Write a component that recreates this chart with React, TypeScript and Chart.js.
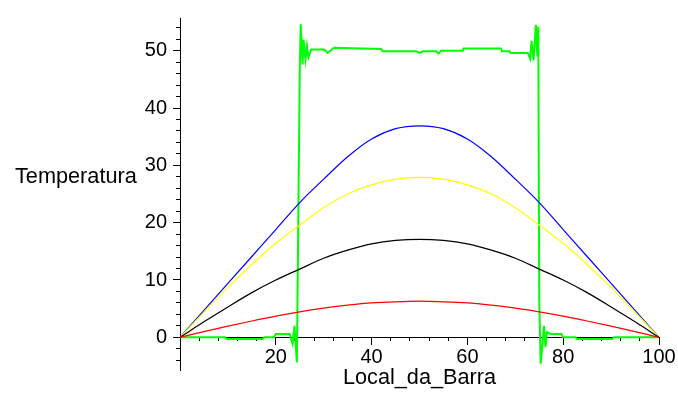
import React, { useEffect, useRef } from 'react';
import { Chart, registerables } from 'chart.js';

Chart.register(...registerables);

// Positions along the bar (x) for the smooth curves
const xSamples = [0, 5, 10, 15, 20, 25, 30, 35, 40, 45, 50, 55, 60, 65, 70, 75, 80, 85, 90, 95, 100];
const blueVals = [0, 4.7, 9.4, 14.1, 18.8, 23.5, 27.6, 31.5, 34.6, 36.4, 36.9, 36.4, 34.6, 31.5, 27.6, 23.5, 18.8, 14.1, 9.4, 4.7, 0];
const yellowVals = [0, 4.4, 8.7, 12.7, 16.4, 19.6, 22.6, 25.0, 26.6, 27.6, 27.9, 27.6, 26.6, 25.0, 22.6, 19.6, 16.4, 12.7, 8.7, 4.4, 0];
const blackVals = [0, 2.7, 5.3, 7.8, 10.0, 11.9, 13.8, 15.2, 16.3, 16.9, 17.1, 16.9, 16.3, 15.2, 13.8, 11.9, 10.0, 7.8, 5.3, 2.7, 0];
const redVals = [0, 1.0, 1.95, 2.85, 3.7, 4.45, 5.1, 5.6, 6.0, 6.2, 6.3, 6.2, 6.0, 5.6, 5.1, 4.45, 3.7, 2.85, 1.95, 1.0, 0];

// Initial profile (truncated Fourier series, with Gibbs ripples)
const greenX = [0, 9.4, 9.8, 17.2, 17.6, 19.6, 20.0, 22.9, 23.5, 23.9, 24.4, 25.0, 25.2, 25.6, 25.8, 26.2, 26.5, 26.8, 27.4, 30.1, 30.8, 32.2, 42.0, 42.3, 49.3, 50.0, 50.7, 53.5, 54.0, 54.5, 59.0, 59.2, 67.0, 67.2, 68.8, 69.0, 72.6, 73.1, 73.4, 73.8, 74.3, 74.6, 74.8, 75.0, 75.3, 76.0, 76.3, 76.6, 77.4, 79.6, 80.0, 82.6, 82.8, 90.2, 90.6, 100];
const greenY = [0, 0, -0.3, -0.3, 0, 0, 0.6, 0.6, -1.1, 2.0, -4.4, 46.3, 54.6, 47.6, 51.9, 48.5, 50.8, 48.8, 50.2, 50.2, 49.6, 50.5, 50.3, 49.9, 49.9, 49.6, 49.9, 49.9, 49.5, 50.0, 50.0, 50.4, 50.4, 49.9, 49.9, 49.6, 49.6, 48.6, 51.7, 48.3, 54.5, 49.0, 54.2, 6.6, -4.6, 2.0, -1.7, 0.9, 0.6, 0.6, 0, 0, -0.3, -0.3, 0, 0];

// Ticks
const xMajorTicks = [20, 40, 60, 80, 100];
const xMinorTicks = [4, 8, 12, 16, 24, 28, 32, 36, 44, 48, 52, 56, 64, 68, 72, 76, 84, 88, 92, 96];
const yMajorTicks = [0, 10, 20, 30, 40, 50];
const yMinorTicks = [-4, -2, 2, 4, 6, 8, 12, 14, 16, 18, 22, 24, 26, 28, 32, 34, 36, 38, 42, 44, 46, 48, 52, 54];

const X_MIN = 0;
const X_MAX = 100;
const Y_MIN = -5.7;
const Y_MAX = 55.7;

const xTitle = 'Local_da_Barra';
const yTitle = 'Temperatura';

const FONT_FAMILY = '"Liberation Sans", Arial, sans-serif';
const Y_AXIS_BOX = 60;

export default function App() {
  const ref = useRef<HTMLCanvasElement>(null);

  useEffect(() => {
    document.body.style.margin = '0';
    const canvas = ref.current!;
    const toPts = (xs: number[], ys: number[]) => xs.map((x, i) => ({ x, y: ys[i] }));

    const titles = {
      id: 'axisTitles',
      afterDraw(chart: any) {
        const c = chart.ctx;
        const a = chart.chartArea;
        c.save();
        c.fillStyle = '#000';
        c.font = '21.7px ' + FONT_FAMILY;
        c.textBaseline = 'middle';
        c.textAlign = 'left';
        c.fillText(yTitle, 15, 177);
        c.textAlign = 'center';
        c.fillText(xTitle, (a.left + a.right) / 2, 378);
        c.restore();
      },
    };

    const lineDs = (label: string, ys: number[], color: string, width: number, xs = xSamples, smooth = true) => ({
      label,
      data: toPts(xs, ys),
      borderColor: color,
      backgroundColor: color,
      borderWidth: width,
      pointRadius: 0,
      fill: false,
      tension: smooth ? 0.4 : 0,
      cubicInterpolationMode: smooth ? 'monotone' : 'default',
      xAxisID: 'x',
      yAxisID: 'y',
    });

    const tickFont = { family: FONT_FAMILY, size: 20 };

    const chart = new Chart(canvas, {
      type: 'line',
      data: {
        datasets: [
          lineDs('red', redVals, '#ff0000', 1.2),
          lineDs('black', blackVals, '#000000', 1.2),
          lineDs('yellow', yellowVals, '#ffff00', 1.2),
          lineDs('blue', blueVals, '#0000ff', 1.2),
          lineDs('green', greenY, '#00ff00', 2, greenX, false),
        ] as any,
      },
      options: {
        animation: false,
        responsive: false,
        layout: { padding: { left: 180 - Y_AXIS_BOX, right: 19, top: 13, bottom: 24 } },
        plugins: { legend: { display: false }, tooltip: { enabled: false } },
        scales: {
          x: {
            type: 'linear',
            min: X_MIN,
            max: X_MAX,
            position: { y: 0 } as any,
            z: 1,
            grid: { drawOnChartArea: false, drawTicks: true, tickLength: 7, color: '#000', tickColor: '#000', tickWidth: 1 },
            border: { display: true, color: '#000', width: 1 },
            afterBuildTicks: (s: any) => { s.ticks = xMajorTicks.map((v) => ({ value: v })); },
            ticks: { font: tickFont, color: '#000', padding: 1, maxRotation: 0, autoSkip: false },
          },
          x2: {
            type: 'linear',
            min: X_MIN,
            max: X_MAX,
            position: { y: 0 } as any,
            z: 1,
            grid: { drawOnChartArea: false, drawTicks: true, tickLength: 4, color: '#000', tickColor: '#000', tickWidth: 1 },
            border: { display: false },
            afterBuildTicks: (s: any) => { s.ticks = xMinorTicks.map((v) => ({ value: v })); },
            ticks: { display: false, autoSkip: false },
          },
          y: {
            type: 'linear',
            min: Y_MIN,
            max: Y_MAX,
            position: 'left',
            z: 1,
            afterFit: (s: any) => { s.width = Y_AXIS_BOX; },
            grid: { drawOnChartArea: false, drawTicks: true, tickLength: 7, color: '#000', tickColor: '#000', tickWidth: 1 },
            border: { display: true, color: '#000', width: 1 },
            afterBuildTicks: (s: any) => { s.ticks = yMajorTicks.map((v) => ({ value: v })); },
            ticks: { font: tickFont, color: '#000', padding: 6, autoSkip: false },
          },
          y2: {
            type: 'linear',
            min: Y_MIN,
            max: Y_MAX,
            position: { x: 0 } as any,
            z: 1,
            grid: { drawOnChartArea: false, drawTicks: true, tickLength: 4, color: '#000', tickColor: '#000', tickWidth: 1 },
            border: { display: false },
            afterBuildTicks: (s: any) => { s.ticks = yMinorTicks.map((v) => ({ value: v })); },
            ticks: { display: false, autoSkip: false },
          },
        },
      } as any,
      plugins: [titles],
    });

    return () => chart.destroy();
  }, []);

  return (
    <div style={{ position: 'absolute', left: 0, top: 0, width: 678, height: 394, background: '#fff' }}>
      <canvas ref={ref} width={678} height={394} style={{ display: 'block' }} />
    </div>
  );
}
